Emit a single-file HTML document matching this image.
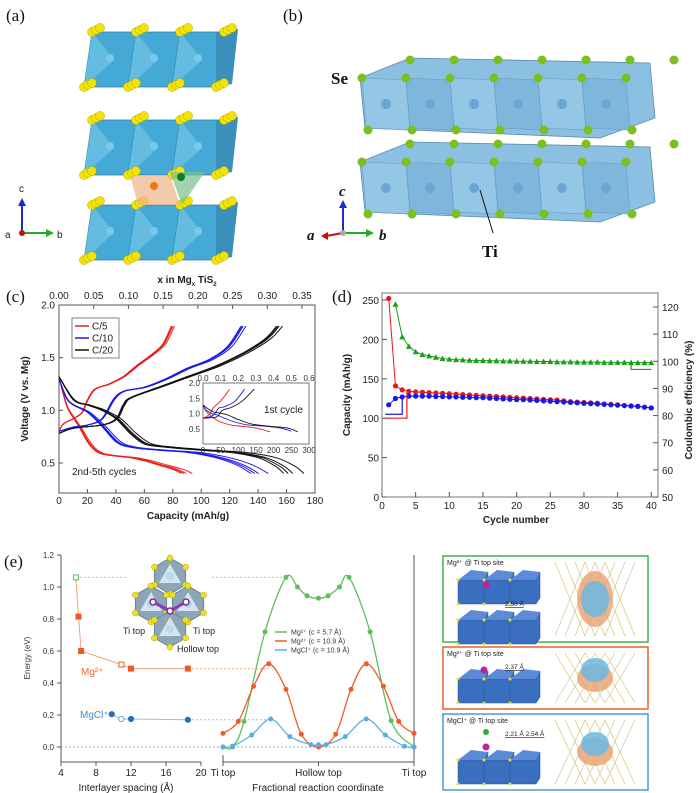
<!DOCTYPE html>
<html><head><meta charset="utf-8">
<style>
html,body{margin:0;padding:0;background:#fff;}
svg{display:block;font-family:"Liberation Sans",sans-serif;}
.t{font-size:10px;fill:#222}
.s{font-size:8px;fill:#333}
.lab{font-family:"Liberation Serif",serif;font-size:17px;fill:#111}
</style></head>
<body>
<svg id="fig" width="700" height="793" viewBox="0 0 700 793" xmlns="http://www.w3.org/2000/svg">
<g id="pa"></g>
<g id="pb"></g>
<g id="pc"></g>
<g id="pd"></g>
<g id="pe"></g>
<g id="pf"></g>
</svg>
<script>
// ---------- Panel (c) data ----------
const cRates = ["C/5","C/10","C/20"];
const cColors = ["#e8201e","#1a1ae8","#111111"];
const cDisCap = [[0,3,6,10,15,20,25,30,40,50,60,70,80,86],[0,5,10,20,30,40,50,70,90,110,125,135],[0,10,20,30,40,50,60,75,100,120,140,152,158]];
const cDisV = [[1.32,1.15,1.02,0.93,0.82,0.70,0.62,0.585,0.565,0.55,0.52,0.48,0.44,0.40],[1.30,1.12,1.05,0.98,0.85,0.70,0.65,0.62,0.60,0.55,0.48,0.40],[1.32,1.10,1.05,1.00,0.92,0.78,0.68,0.65,0.62,0.60,0.55,0.47,0.40]];
const cChgCap = [[0,3,10,16,20,25,35,45,55,65,73,79],[0,10,20,30,38,45,60,75,90,105,118,128],[0,10,30,40,45,50,70,90,110,130,145,153]];
const cChgV = [[0.80,0.87,0.92,0.98,1.10,1.20,1.25,1.32,1.43,1.53,1.63,1.80],[0.80,0.84,0.86,0.92,1.10,1.18,1.22,1.30,1.40,1.48,1.60,1.80],[0.78,0.83,0.86,0.92,1.05,1.12,1.22,1.32,1.42,1.55,1.68,1.80]];
const cCycleStretch = [1.0,1.02,1.04,1.09];
const cXTicks = [0,20,40,60,80,100,120,140,160,180];
const cYTicks = [0.5,1.0,1.5,2.0];
const cTopTicks = [0.00,0.05,0.10,0.15,0.20,0.25,0.30,0.35];
const inDisCap = [[0,10,20,30,50,80,110,150,190],[0,10,25,40,60,90,130,180,220,250],[0,15,30,45,70,100,140,190,240,268]];
const inDisV = [[1.25,1.05,0.95,0.85,0.72,0.62,0.58,0.52,0.40],[1.25,1.1,1.0,0.95,0.85,0.72,0.62,0.58,0.52,0.42],[1.28,1.15,1.05,1.02,0.95,0.8,0.65,0.58,0.52,0.40]];
const inChgCap = [[0,10,20,30,45,60,75],[0,15,30,45,60,90,118],[0,20,40,55,80,110,145]];
const inChgV = [[0.85,0.9,1.0,1.2,1.35,1.55,1.80],[0.85,0.88,0.95,1.18,1.22,1.4,1.80],[0.85,0.86,0.9,1.1,1.2,1.4,1.80]];
const inXTicks = [0,50,100,150,200,250,300];
const inYTicks = [0.5,1.0,1.5,2.0];
const inTopTicks = [0.0,0.1,0.2,0.3,0.4,0.5,0.6];

// ---------- Panel (d) data ----------
const dRedCycles = [1,2,3,4,5,6,7,8,9,10,11,12,13,14,15,16,17,18,19,20,21,22,23,24,25,26,27,28,29,30,31,32,33,34,35,36,37,38,39,40];
const dRed = [252,141,136,134,133.5,133,132.5,132,131.5,131,130.5,130,129.5,129,128.5,128,127.5,127,126.5,126,125.5,125,124.5,124,123.5,123,122,121,120.5,120,119.5,119,118,117.5,117,116,115.5,115,114,113];
const dBlue = [117,125,127,128,128,128,128,127.5,127.5,127,127,126.5,126.5,126,126,125.5,125,124.5,124,123.5,123.5,123,122.5,122,121.5,121,120.5,120,119.5,119,118.5,118,117.5,117,116.5,116,115.5,115,114,113];
const dCE = [121,109,105.5,103.5,102.5,102,101.5,101,100.8,100.6,100.5,100.4,100.3,100.3,100.2,100.2,100.1,100.1,100,100,100,99.9,99.9,99.9,99.8,99.8,99.8,99.7,99.7,99.7,99.7,99.6,99.6,99.6,99.6,99.5,99.5,99.5,99.5];
const dXTicks = [0,5,10,15,20,25,30,35,40];
const dYTicks = [0,50,100,150,200,250];
const dY2Ticks = [50,60,70,80,90,100,110,120];

// ---------- Panel (e) data ----------
const eMgX = [5.7,6.0,6.3,10.9,12,18.5];
const eMgE = [1.06,0.815,0.60,0.515,0.49,0.49];
const eMgOpen = [1,0,0,1,0,0];
const eClX = [9.8,10.9,12,18.5];
const eClE = [0.205,0.175,0.175,0.17];
const eClOpen = [0,1,0,0];
const eLeftXTicks = [4,8,12,16,20];
const eYTicks = [0.0,0.2,0.4,0.6,0.8,1.0,1.2];
const eRxnNames = ["Mg2+ c=5.7","Mg2+ c=10.9","MgCl+ c=10.9"];
const eRxnColors = ["#5cbf5c","#f05a28","#5aaee0"];
const eRxnT = [[0,0.05,0.11,0.22,0.33,0.39,0.44,0.5,0.55,0.61,0.66,0.77,0.88,1.0],[0,0.08,0.16,0.24,0.33,0.41,0.5,0.59,0.67,0.75,0.84,0.92,1.0],[0,0.05,0.15,0.25,0.35,0.46,0.5,0.54,0.64,0.75,0.85,0.95,1.0]];
const eRxnE = [[0,0.0,0.16,0.72,1.06,1.0,0.945,0.93,0.945,1.0,1.06,0.72,0.165,0.0],[0.085,0.16,0.38,0.52,0.36,0.08,0.0,0.08,0.36,0.52,0.38,0.16,0.085],[0,0.005,0.075,0.175,0.065,0.015,0.015,0.015,0.065,0.175,0.075,0.005,0]];

const NS="http://www.w3.org/2000/svg";
function mk(parent,tag,attrs,text){const e=document.createElementNS(NS,tag);for(const k in attrs)e.setAttribute(k,attrs[k]);if(text!==undefined)e.textContent=text;parent.appendChild(e);return e;}
function smooth(pts){if(pts.length<2)return"";let d="M"+pts[0][0]+","+pts[0][1];for(let i=0;i<pts.length-1;i++){const p0=pts[i-1]||pts[i],p1=pts[i],p2=pts[i+1],p3=pts[i+2]||p2;const c1=[p1[0]+(p2[0]-p0[0])/6,p1[1]+(p2[1]-p0[1])/6],c2=[p2[0]-(p3[0]-p1[0])/6,p2[1]-(p3[1]-p1[1])/6];d+=" C"+c1[0].toFixed(1)+","+c1[1].toFixed(1)+" "+c2[0].toFixed(1)+","+c2[1].toFixed(1)+" "+p2[0].toFixed(1)+","+p2[1].toFixed(1);}return d;}

// ---------- Panel labels ----------
const fig=document.getElementById('fig');
[["(a)",6,21],["(b)",283,21],["(c)",6,302],["(d)",332,302],["(e)",4,567]].forEach(l=>{
 const t=mk(fig,'text',{x:l[1],y:l[2],class:'lab'},l[0]);
 
 
});

// ---------- Panel (a) ----------
const pa=document.getElementById('pa');
function layerA(y0){
 for(let i=0;i<3;i++){const x=84+i*44;
  mk(pa,'polygon',{points:`${x+8},${y0} ${x+52},${y0} ${x+44},${y0+55} ${x},${y0+55}`,fill:'#45a9d6',stroke:'#2f7fa8','stroke-width':0.8});
  mk(pa,'polygon',{points:`${x+8},${y0} ${x+30},${y0+28} ${x},${y0+55}`,fill:'#6cc0e4',opacity:0.8});
  mk(pa,'circle',{cx:x+26,cy:y0+26,r:4,fill:'#7ac8ec'});
 }
 mk(pa,'polygon',{points:`216,${y0} 238,${y0-3} 232,${y0+52} 216,${y0+55}`,fill:'#3a8fbb'});
 for(let i=0;i<4;i++){const x=92+i*44;
  for(let k=0;k<3;k++){mk(pa,'circle',{cx:x+k*4,cy:y0-k*2,r:4.5,fill:'#f2e400',stroke:'#b8a800','stroke-width':0.5});}
  for(let k=0;k<3;k++){mk(pa,'circle',{cx:x-8+k*4,cy:y0+55-k*2,r:4.5,fill:'#f2e400',stroke:'#b8a800','stroke-width':0.5});}
 }
}
layerA(32);layerA(120);layerA(205);
mk(pa,'polygon',{points:'130,175 170,175 180,205 138,205',fill:'#f0b48a',opacity:0.7});
mk(pa,'polygon',{points:'170,172 205,172 182,205',fill:'#7cc08a',opacity:0.7});
mk(pa,'circle',{cx:154,cy:186,r:4,fill:'#f07a10'});
mk(pa,'circle',{cx:181,cy:177,r:4,fill:'#107a20'});
mk(pa,'line',{x1:22,y1:233,x2:22,y2:204,stroke:'#1030d0','stroke-width':2});
mk(pa,'polygon',{points:'18,206 26,206 22,198',fill:'#1030d0'});
mk(pa,'line',{x1:22,y1:233,x2:48,y2:233,stroke:'#20b020','stroke-width':2});
mk(pa,'polygon',{points:'46,229 46,237 54,233',fill:'#20b020'});
mk(pa,'circle',{cx:22,cy:233,r:3,fill:'#c01010'});
mk(pa,'text',{x:19,y:192,class:'t','font-size':13},'c');
mk(pa,'text',{x:57,y:238,class:'t','font-size':13},'b');
mk(pa,'text',{x:5,y:238,class:'t','font-size':13},'a');

// ---------- Panel (b) ----------
const pb=document.getElementById('pb');
function slabB(y0){
 mk(pb,'polygon',{points:`360,${y0+20} 410,${y0} 650,${y0+5} 655,${y0+60} 600,${y0+80} 365,${y0+70}`,fill:'#8cc0e2',stroke:'#5a8cb0','stroke-width':0.8});
 for(let i=0;i<6;i++){const x=362+i*44;
  mk(pb,'polygon',{points:`${x},${y0+20} ${x+44},${y0+22} ${x+48},${y0+72} ${x+4},${y0+70}`,fill:i%2?'#7fb6dc':'#94c6e6',stroke:'#6a9cc0','stroke-width':0.6});
  mk(pb,'circle',{cx:x+24,cy:y0+46,r:5,fill:'#6aa6d4'});
 }
 for(let i=0;i<7;i++){const x=362+i*44;
  mk(pb,'circle',{cx:x,cy:y0+20,r:4.5,fill:'#7ac020'});
  mk(pb,'circle',{cx:x+6,cy:y0+72,r:4.5,fill:'#7ac020'});
  mk(pb,'circle',{cx:x+48,cy:y0+2,r:4.5,fill:'#7ac020'});
 }
}
slabB(58);slabB(142);
mk(pb,'text',{x:331,y:84,'font-family':'Liberation Serif,serif','font-size':17,'font-weight':'bold',fill:'#111'},'Se');
mk(pb,'line',{x1:480,y1:190,x2:493,y2:233,stroke:'#111','stroke-width':1});
mk(pb,'text',{x:482,y:257,'font-family':'Liberation Serif,serif','font-size':17,'font-weight':'bold',fill:'#111'},'Ti');
mk(pb,'line',{x1:343,y1:233,x2:343,y2:206,stroke:'#1030d0','stroke-width':2});
mk(pb,'polygon',{points:'339,208 347,208 343,200',fill:'#1030d0'});
mk(pb,'line',{x1:343,y1:233,x2:368,y2:233,stroke:'#20b020','stroke-width':2});
mk(pb,'polygon',{points:'366,229 366,237 374,233',fill:'#20b020'});
mk(pb,'line',{x1:343,y1:233,x2:326,y2:236,stroke:'#c01010','stroke-width':2});
mk(pb,'polygon',{points:'328,232 328,240 321,236',fill:'#c01010'});
mk(pb,'circle',{cx:343,cy:233,r:3,fill:'#aaa'});
mk(pb,'text',{x:339,y:196,'font-family':'Liberation Serif,serif','font-size':15,'font-style':'italic','font-weight':'bold',fill:'#111'},'c');
mk(pb,'text',{x:379,y:240,'font-family':'Liberation Serif,serif','font-size':15,'font-style':'italic','font-weight':'bold',fill:'#111'},'b');
mk(pb,'text',{x:307,y:240,'font-family':'Liberation Serif,serif','font-size':15,'font-style':'italic','font-weight':'bold',fill:'#111'},'a');

// ---------- Panel (c) ----------
const pc=document.getElementById('pc');
const cx=v=>59+v*(256/180), cy=v=>305+(2.0-v)*105.3, ctop=v=>59+v*(243/0.35);
mk(pc,'rect',{x:59,y:305,width:256,height:188,fill:'none',stroke:'#555','stroke-width':1});
cXTicks.forEach(v=>{mk(pc,'line',{x1:cx(v),y1:493,x2:cx(v),y2:489,stroke:'#555'});const t=mk(pc,'text',{x:cx(v),y:504,class:'t','text-anchor':'middle'},v);});
cYTicks.forEach(v=>{mk(pc,'line',{x1:59,y1:cy(v),x2:63,y2:cy(v),stroke:'#555'});const t=mk(pc,'text',{x:55,y:cy(v)+3.5,class:'t','text-anchor':'end'},v.toFixed(1));});
cTopTicks.forEach(v=>{mk(pc,'line',{x1:ctop(v),y1:305,x2:ctop(v),y2:309,stroke:'#555'});const t=mk(pc,'text',{x:ctop(v),y:299,class:'t','text-anchor':'middle'},v.toFixed(2));});
{let t=mk(pc,'text',{x:187,y:283,class:'t','font-weight':'bold','text-anchor':'middle','font-size':9},'x in Mg');
 mk(t,'tspan',{'baseline-shift':'sub','font-size':6},'x');mk(t,'tspan',{},' TiS');mk(t,'tspan',{'baseline-shift':'sub','font-size':6},'2');
 t=mk(pc,'text',{x:188,y:519,class:'t','font-weight':'bold','text-anchor':'middle'},'Capacity (mAh/g)');
 t=mk(pc,'text',{x:28,y:399,class:'t','font-weight':'bold','text-anchor':'middle',transform:'rotate(-90 28 399)'},'Voltage (V vs. Mg)');}
for(let r=0;r<3;r++){
 cCycleStretch.forEach(s=>{
  const pd=cDisCap[r].map((c,i)=>[cx(c*s),cy(cDisV[r][i])]);
  const p=mk(pc,'path',{d:smooth(pd),fill:'none',stroke:cColors[r],'stroke-width':1});
  
  const pcg=cChgCap[r].map((c,i)=>[cx(c*(1+(s-1)*0.3)),cy(cChgV[r][i])]);
  const q=mk(pc,'path',{d:smooth(pcg),fill:'none',stroke:cColors[r],'stroke-width':1});
  
 });
}
// legend
mk(pc,'rect',{x:72,y:318,width:47,height:40,fill:'#fff',stroke:'#666','stroke-width':0.8});
cRates.forEach((n,i)=>{const y=326+i*12;mk(pc,'line',{x1:75,y1:y,x2:89,y2:y,stroke:cColors[i],'stroke-width':1.5});const t=mk(pc,'text',{x:92,y:y+3.5,class:'t'},n);});
mk(pc,'text',{x:72,y:475,class:'t'},'2nd-5th cycles');
// inset
const ix=v=>203+v*(106/300), iy=v=>444-v*30.5, itop=v=>203+v*(106/0.6);
mk(pc,'rect',{x:203,y:383,width:106,height:61,fill:'#fff',stroke:'#555','stroke-width':0.8});
inXTicks.forEach(v=>{mk(pc,'text',{x:ix(v),y:453,class:'s','text-anchor':'middle'},v);});
inYTicks.forEach(v=>{mk(pc,'text',{x:200,y:iy(v)+3,class:'s','text-anchor':'end'},v.toFixed(1));});
inTopTicks.forEach(v=>{mk(pc,'text',{x:itop(v),y:381,class:'s','text-anchor':'middle'},v.toFixed(1));});
for(let r=0;r<3;r++){
 mk(pc,'path',{d:smooth(inDisCap[r].map((c,i)=>[ix(c),iy(inDisV[r][i])])),fill:'none',stroke:cColors[r],'stroke-width':0.9});
 mk(pc,'path',{d:smooth(inChgCap[r].map((c,i)=>[ix(c),iy(inChgV[r][i])])),fill:'none',stroke:cColors[r],'stroke-width':0.9});
}
mk(pc,'text',{x:264,y:413,class:'t'},'1st cycle');

// ---------- Panel (d) ----------
const pdg=document.getElementById('pd');
const dx=v=>382+v*(276/41), dyL=v=>497-v*(197/250), dyR=v=>497-(v-50)*(190/70);
mk(pdg,'rect',{x:382,y:293,width:276,height:204,fill:'none',stroke:'#777','stroke-width':1});
dXTicks.forEach(v=>{mk(pdg,'line',{x1:dx(v),y1:497,x2:dx(v),y2:492,stroke:'#555'});const t=mk(pdg,'text',{x:dx(v),y:509,class:'t','text-anchor':'middle','font-size':11},v);});
dYTicks.forEach(v=>{mk(pdg,'line',{x1:382,y1:dyL(v),x2:387,y2:dyL(v),stroke:'#555'});const t=mk(pdg,'text',{x:379,y:dyL(v)+4,class:'t','text-anchor':'end','font-size':11},v);});
dY2Ticks.forEach(v=>{mk(pdg,'line',{x1:653,y1:dyR(v),x2:658,y2:dyR(v),stroke:'#555'});const t=mk(pdg,'text',{x:662,y:dyR(v)+4,class:'t','font-size':11},v);});
{let t=mk(pdg,'text',{x:516,y:523,class:'t','font-weight':'bold','text-anchor':'middle','font-size':11},'Cycle number');
 t=mk(pdg,'text',{x:692,y:400,class:'t','font-weight':'bold','text-anchor':'middle','font-size':11,transform:'rotate(-90 692 400)'},'Coulombic efficiency (%)');
 t=mk(pdg,'text',{x:350,y:395,class:'t','font-weight':'bold','text-anchor':'middle','font-size':11,transform:'rotate(-90 350 395)'},'Capacity (mAh/g)');}
function series(arrX,arrY,yfn,color,shape,name){
 mk(pdg,'polyline',{points:arrX.map((c,i)=>dx(c)+','+yfn(arrY[i])).join(' '),fill:'none',stroke:color,'stroke-width':1});
 arrX.forEach((c,i)=>{let m;
  if(shape==='tri'){const X=dx(c),Y=yfn(arrY[i]);m=mk(pdg,'polygon',{points:`${X-3},${Y+2.5} ${X+3},${Y+2.5} ${X},${Y-3}`,fill:color});}
  else m=mk(pdg,'circle',{cx:dx(c),cy:yfn(arrY[i]),r:2.6,fill:color});
  });
}
series(dRedCycles,dRed,dyL,'#e81818','c','discharge-point');
series(dRedCycles,dBlue,dyL,'#1818e8','c','charge-point');
series(dRedCycles.slice(1),dCE,dyR,'#18a018','tri','ce-point');
mk(pdg,'polyline',{points:`${dx(3)},${dyL(127)} ${dx(3)},${dyL(105)} ${dx(0.5)},${dyL(105)}`,fill:'none',stroke:'#1818e8','stroke-width':1.2});
mk(pdg,'polyline',{points:`${dx(3.7)},${dyL(133)} ${dx(3.7)},${dyL(100)} ${dx(0.5)},${dyL(100)}`,fill:'none',stroke:'#e81818','stroke-width':1.2});
mk(pdg,'polyline',{points:`${dx(37)},${dyR(99)} ${dx(37)},${dyR(97)} ${dx(40)},${dyR(97)}`,fill:'none',stroke:'#18a018','stroke-width':1.2});

// ---------- Panel (e) ----------
const pe=document.getElementById('pe');
const exL=v=>61+(v-4)*(140/16), ey=v=>747-v*160, exR=v=>223+v*191;
mk(pe,'line',{x1:61,y1:555,x2:61,y2:762,stroke:'#555'});
mk(pe,'line',{x1:61,y1:762,x2:201,y2:762,stroke:'#555'});
mk(pe,'line',{x1:223,y1:762,x2:414,y2:762,stroke:'#555'});
mk(pe,'line',{x1:414,y1:555,x2:414,y2:762,stroke:'#555'});
mk(pe,'line',{x1:223,y1:755,x2:223,y2:762,stroke:'#555'});
eYTicks.forEach(v=>{mk(pe,'line',{x1:61,y1:ey(v),x2:57,y2:ey(v),stroke:'#555'});const t=mk(pe,'text',{x:54,y:ey(v)+3,class:'s','text-anchor':'end'},v.toFixed(1));});
eLeftXTicks.forEach(v=>{mk(pe,'line',{x1:exL(v),y1:762,x2:exL(v),y2:766,stroke:'#555'});const t=mk(pe,'text',{x:exL(v),y:776,class:'t','text-anchor':'middle','font-size':9},v);});
[["Ti top",0],["Hollow top",0.5],["Ti top",1]].forEach(a=>{mk(pe,'line',{x1:exR(a[1]),y1:762,x2:exR(a[1]),y2:766,stroke:'#555'});mk(pe,'text',{x:exR(a[1]),y:776,class:'t','text-anchor':'middle','font-size':9},a[0]);});
mk(pe,'text',{x:126,y:791,class:'t','text-anchor':'middle','font-size':9},'Interlayer spacing (Å)');
mk(pe,'text',{x:318,y:791,class:'t','text-anchor':'middle','font-size':9},'Fractional reaction coordinate');
mk(pe,'text',{x:30,y:658,class:'s','text-anchor':'middle',transform:'rotate(-90 30 658)'},'Energy (eV)');
// dotted guides
mk(pe,'line',{x1:61,y1:ey(0),x2:414,y2:ey(0),stroke:'#aaa','stroke-dasharray':'2,2'});
mk(pe,'line',{x1:exL(5.7),y1:ey(1.06),x2:128,y2:ey(1.06),stroke:'#8fd08f','stroke-dasharray':'2,2'});
mk(pe,'line',{x1:212,y1:ey(1.06),x2:exR(0.33),y2:ey(1.06),stroke:'#8fd08f','stroke-dasharray':'2,2'});
mk(pe,'line',{x1:exL(18.5),y1:ey(0.49),x2:exR(0.24),y2:ey(0.49),stroke:'#f5a07a','stroke-dasharray':'2,2'});
mk(pe,'line',{x1:exL(18.5),y1:ey(0.17),x2:exR(0.25),y2:ey(0.17),stroke:'#9ccfee','stroke-dasharray':'2,2'});
// left series
mk(pe,'polyline',{points:eMgX.map((x,i)=>exL(x)+','+ey(eMgE[i])).join(' '),fill:'none',stroke:'#f5a07a','stroke-width':1});
eMgX.forEach((x,i)=>{const col=i===0?'#5cbf5c':'#f05a20';const m=mk(pe,'rect',{x:exL(x)-2.5,y:ey(eMgE[i])-2.5,width:5,height:5,fill:eMgOpen[i]?'#fff':col,stroke:col,'stroke-width':1});});
mk(pe,'polyline',{points:eClX.map((x,i)=>exL(x)+','+ey(eClE[i])).join(' '),fill:'none',stroke:'#8cc4ea','stroke-width':1});
eClX.forEach((x,i)=>{const m=mk(pe,'circle',{cx:exL(x),cy:ey(eClE[i]),r:2.6,fill:eClOpen[i]?'#fff':'#2a6cc0',stroke:eClOpen[i]?'#5aaee0':'#2a6cc0','stroke-width':1});});
mk(pe,'text',{x:81,y:675,'font-size':10,fill:'#f06a30'},'Mg²⁺');
mk(pe,'text',{x:80,y:718,'font-size':10,fill:'#3a8ed0'},'MgCl⁺');
// right curves
for(let s=0;s<3;s++){
 const p=mk(pe,'path',{d:smooth(eRxnT[s].map((t,i)=>[exR(t),ey(eRxnE[s][i])])),fill:'none',stroke:eRxnColors[s],'stroke-width':1.3});
 
 eRxnT[s].forEach((t,i)=>{const m=mk(pe,'circle',{cx:exR(t),cy:ey(eRxnE[s][i]),r:2.5,fill:eRxnColors[s]});});
}
[["Mg²⁺ (c =  5.7 Å)",632],["Mg²⁺ (c = 10.9 Å)",641],["MgCl⁺ (c = 10.9 Å)",650]].forEach((l,i)=>{mk(pe,'line',{x1:275,y1:l[1],x2:287,y2:l[1],stroke:eRxnColors[i],'stroke-width':1.5});const t=mk(pe,'text',{x:291,y:l[1]+2.5,'font-size':7,fill:'#333'},l[0]);});
// inset structure
[[170,576],[151,604],[188,604],[170,629]].forEach(c=>{
 let pts=[];for(let k=0;k<6;k++){const a=Math.PI/3*k+Math.PI/6;pts.push((c[0]+18*Math.cos(a)).toFixed(1)+','+(c[1]+18*Math.sin(a)).toFixed(1));}
 mk(pe,'polygon',{points:pts.join(' '),fill:'#8aa6b8',stroke:'#6a8698'});
 mk(pe,'polygon',{points:`${c[0]},${c[1]-12} ${c[0]+11},${c[1]+7} ${c[0]-11},${c[1]+7}`,fill:'#d8e4ec'});
 mk(pe,'circle',{cx:c[0],cy:c[1],r:4,fill:'#b8d8ec'});
 for(let k=0;k<6;k++){const a=Math.PI/3*k+Math.PI/6;mk(pe,'circle',{cx:c[0]+18*Math.cos(a),cy:c[1]+18*Math.sin(a),r:3,fill:'#f0e020',stroke:'#b0a000','stroke-width':0.5});}
});
mk(pe,'polyline',{points:'153,602 170,611 186,602',fill:'none',stroke:'#8a3ab0','stroke-width':3});
[[153,602],[170,611],[186,602]].forEach(p=>mk(pe,'circle',{cx:p[0],cy:p[1],r:3,fill:'#fff',stroke:'#7a2aa0','stroke-width':1.5}));
mk(pe,'text',{x:123,y:634,'font-size':9,fill:'#222'},'Ti top');
mk(pe,'text',{x:193,y:634,'font-size':9,fill:'#222'},'Ti top');
mk(pe,'text',{x:177,y:652,'font-size':9,fill:'#222'},'Hollow top');

// ---------- Right boxes ----------
const pf=document.getElementById('pf');
function siteBox(y,h,col,label,dist){
 const b=mk(pf,'rect',{x:443,y:y,width:205,height:h,fill:'#fff',stroke:col,'stroke-width':1.5});
 
 mk(pf,'text',{x:447,y:y+9,'font-size':7,fill:'#222'},label);
 const slabs=h>80?[y+12,y+52]:[y+h-42];
 slabs.forEach(sy=>{for(let i=0;i<3;i++){const x=458+i*26;
  mk(pf,'polygon',{points:`${x},${sy+12} ${x+26},${sy+12} ${x+30},${sy+4} ${x+30},${sy+30} ${x+26},${sy+36} ${x},${sy+36}`,fill:'#3a6fc0',stroke:'#2a5090','stroke-width':0.5});
  mk(pf,'polygon',{points:`${x},${sy+12} ${x+13},${sy+2} ${x+30},${sy+4} ${x+26},${sy+12}`,fill:'#5a8ad8'});
  mk(pf,'circle',{cx:x,cy:sy+12,r:1.5,fill:'#e8e020'});mk(pf,'circle',{cx:x,cy:sy+36,r:1.5,fill:'#e8e020'});}});
 mk(pf,'text',{x:505,y:y+(h>80?50:22),'font-size':6.5,fill:'#222','text-decoration':'underline'},dist);
 // right density cartoon
 const cxm=595,cym=y+h/2;
 for(let k=0;k<6;k++){mk(pf,'line',{x1:555+k*10,y1:y+6,x2:585+k*10,y2:y+h-6,stroke:'#d8c860','stroke-width':0.7});mk(pf,'line',{x1:635-k*10,y1:y+6,x2:605-k*10,y2:y+h-6,stroke:'#c8c8a0','stroke-width':0.7});}
 mk(pf,'ellipse',{cx:cxm,cy:cym,rx:18,ry:h>80?28:14,fill:'#e8a070',opacity:0.8});
 mk(pf,'ellipse',{cx:cxm,cy:cym-(h>80?0:8),rx:14,ry:h>80?18:12,fill:'#6ab8e0',opacity:0.85});
}
siteBox(556,86,'#3cb44a','Mg²⁺ @ Ti top site','2.50 Å');
siteBox(647,62,'#e8602a','Mg²⁺ @ Ti top site','2.37 Å');
siteBox(714,76,'#4a9ad8','MgCl⁺ @ Ti top site','2.21 Å  2.54 Å');
mk(pf,'circle',{cx:486,cy:585,r:3.5,fill:'#c020a0'});
mk(pf,'circle',{cx:484,cy:670,r:3.5,fill:'#c020a0'});
mk(pf,'circle',{cx:486,cy:732,r:3,fill:'#30b030'});
mk(pf,'circle',{cx:486,cy:747,r:3.5,fill:'#c020a0'});
</script>
</body></html>
